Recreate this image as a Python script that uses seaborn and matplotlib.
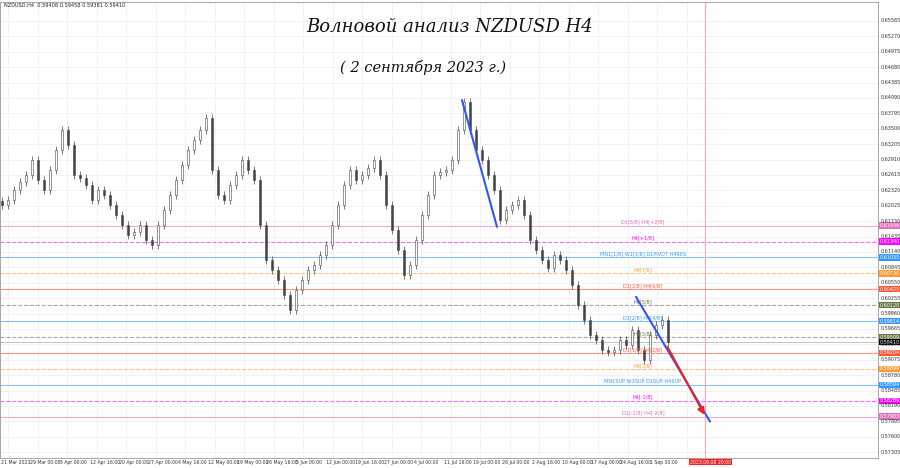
import numpy as np
import matplotlib
matplotlib.use('Agg')
import matplotlib.pyplot as plt
import seaborn as sns

# close prices, one every ~6 px of bar axis
closes = [0.6204, 0.6214, 0.6233, 0.6248, 0.6261, 0.6290, 0.6252, 0.6233, 0.6271, 0.6309,
          0.6348, 0.6319, 0.6261, 0.6256, 0.6242, 0.6214, 0.6233, 0.6223, 0.6204, 0.6185,
          0.6166, 0.6147, 0.6152, 0.6166, 0.6137, 0.6127, 0.6166, 0.6194, 0.6223, 0.6252,
          0.6281, 0.6309, 0.6329, 0.6348, 0.6371, 0.6271, 0.6223, 0.6214, 0.6242, 0.6261,
          0.6290, 0.6271, 0.6252, 0.6166, 0.6099, 0.6079, 0.6060, 0.6032, 0.6003, 0.6041,
          0.6060, 0.6079, 0.6089, 0.6108, 0.6127, 0.6166, 0.6204, 0.6242, 0.6271, 0.6252,
          0.6261, 0.6275, 0.6290, 0.6261, 0.6204, 0.6156, 0.6118, 0.6070, 0.6089, 0.6137,
          0.6185, 0.6223, 0.6261, 0.6267, 0.6271, 0.6290, 0.6348, 0.6401, 0.6348, 0.6309,
          0.6290, 0.6261, 0.6233, 0.6175, 0.6194, 0.6204, 0.6214, 0.6185, 0.6137, 0.6118,
          0.6099, 0.6083, 0.6108, 0.6099, 0.6079, 0.6051, 0.6012, 0.5984, 0.5955, 0.5945,
          0.5926, 0.5922, 0.5926, 0.5945, 0.5936, 0.5964, 0.5926, 0.5907, 0.5955, 0.5974,
          0.5984, 0.5941]
bar_step = 6

date_labels = ['21 Mar 2023', '29 Mar 00:00', '5 Apr 00:00', '12 Apr 16:00', '20 Apr 00:00',
               '27 Apr 00:00', '4 May 16:00', '12 May 00:00', '19 May 00:00', '26 May 16:00',
               '5 Jun 00:00', '12 Jun 00:00', '19 Jun 16:00', '27 Jun 00:00', '4 Jul 00:00',
               '11 Jul 16:00', '19 Jul 00:00', '26 Jul 00:00', '2 Aug 16:00', '10 Aug 00:00',
               '17 Aug 00:00', '24 Aug 16:00', '1 Sep 00:00']
price_ticks = [0.57305 + 0.00295 * i for i in range(29)]

level_prices = [0.61646, 0.61340, 0.61035, 0.60730, 0.60425, 0.60120, 0.59814,
                0.59509, 0.59204, 0.58899, 0.58594, 0.58289, 0.57983]
level_names = ['D1[5/8] H4[+2/8]', 'H4[+1/8]', 'MN1[1/8] W1[1/8] D1PIVOT H4RES', 'H4[7/8]',
               'D1[3/8] H4[6/8]', 'H4[5/8]', 'D1[2/8] H4[4/8]', 'H4[3/8]', 'D1[1/8] H4[2/8]',
               'H4[1/8]', 'MN1SUP W1SUP D1SUP H4SUP', 'H4[-1/8]', 'D1[-1/8] H4[-2/8]']
level_colors = ['#e070c0', '#ff00ff', '#3399ff', '#ff9933', '#ff5533', '#667744', '#3399ff',
                '#667744', '#ff5533', '#ff9933', '#3399ff', '#ff00ff', '#e070c0']
level_styles = ['-', '--', '-', '--', '-', '--', '-', '--', '-', '--', '-', '--', '-']

sns.set_style('white')
fig = plt.figure(figsize=(9, 4.68), dpi=100)
ax = fig.add_axes([0, 10 / 468, 878 / 900, 456 / 468])
ax.set_xlim(0, 878)
ax.set_ylim(0.57192, 0.65929)

for p in price_ticks:
    ax.axhline(p, color='#f0f0f0', lw=0.6, zorder=0)
for i in range(len(date_labels) + 1):
    ax.axvline(8 + 29.5 * i, color='#f0f0f0', lw=0.6, zorder=0)

# candles
prev = closes[0] + 0.0008
for i, c in enumerate(closes):
    x = 2 + i * bar_step
    lo, hi = min(prev, c), max(prev, c)
    ax.vlines(x, lo - 0.0008, hi + 0.0008, color='#444444', lw=0.5, zorder=2)
    ax.bar(x, max(hi - lo, 0.0001), bottom=lo, width=2.2,
           color='white' if c >= prev else '#444444', edgecolor='#444444', lw=0.4, zorder=3)
    prev = c

# levels
for p, n, col, ls in zip(level_prices, level_names, level_colors, level_styles):
    ax.axhline(p, color=col, ls=ls, lw=0.8, alpha=0.6, zorder=1)
    ax.text(643, p + 0.0002, n, color=col, fontsize=3.6, ha='center', va='bottom')
    ax.text(880, p, '%.5f' % p, color='white', fontsize=3.5, va='center',
            clip_on=False, bbox=dict(boxstyle='square,pad=0.15', fc=col, ec='none'))
ax.text(880, 0.59410, '0.59410', color='white', fontsize=3.5, va='center',
        clip_on=False, bbox=dict(boxstyle='square,pad=0.15', fc='black', ec='none'))
ax.axhline(0.59410, color='#aaaaaa', lw=0.5, zorder=1)

ax.axvline(705, color='#ffaaaa', lw=0.8)

# wave lines
ax.plot([462, 497], [0.6405, 0.6162], color='#3355ff', lw=1.5, zorder=4)
ax.plot([636, 710], [0.6028, 0.5789], color='#3355ff', lw=1.5, zorder=4)
ax.annotate('', xy=(706, 0.5797), xytext=(666, 0.5937),
            arrowprops=dict(arrowstyle='-|>', color='#ee2222', lw=1.5), zorder=5)

# axis texts
ax.set_xticks([]); ax.set_yticks([])
for p in price_ticks:
    ax.text(881, p, '%.5f' % p, fontsize=3.5, va='center', color='#333333', clip_on=False)
for i, lab in enumerate(date_labels):
    ax.text(1 + 29.5 * i, 0.57192 - 0.0003, lab, fontsize=3.3, va='top', color='#333333',
            clip_on=False)
ax.text(690, 0.57192 - 0.0003, '2023.09.08 20:00', fontsize=3.3, va='top', color='white',
        clip_on=False, bbox=dict(boxstyle='square,pad=0.2', fc='#ff2222', ec='none'))
for s in ax.spines.values():
    s.set_color('#999999'); s.set_linewidth(0.6)

ax.text(4, 0.6583, 'NZDUSD,H4  0.59408 0.59458 0.59381 0.59410', fontsize=3.6, color='#222222')
ax.text(450, 0.6535, 'Волновой анализ NZDUSD H4', fontsize=13, style='italic', ha='center',
        family='DejaVu Serif', color='#111111')
ax.text(423, 0.6459, '( 2 сентября 2023 г.)', fontsize=10.5, style='italic', ha='center',
        family='DejaVu Serif', color='#111111')

fig.savefig('out.png', dpi=100)
